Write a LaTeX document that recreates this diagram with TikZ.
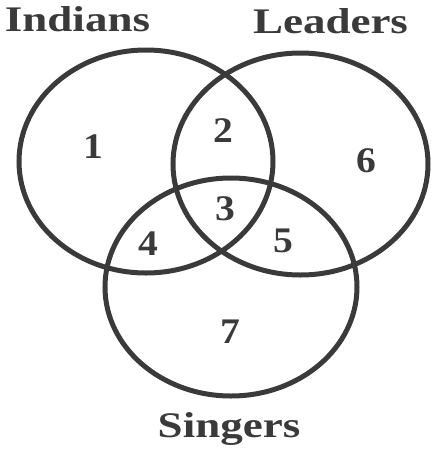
\documentclass[tikz,border=0pt]{standalone}
\usepackage{fontspec}
\setmainfont{Liberation Serif}
\definecolor{ink}{HTML}{3A3A3A}
\begin{document}
\begin{tikzpicture}[x=1pt,y=-1pt,
  ring/.style={draw=ink,line width=5pt},
  setlabel/.style={anchor=base,inner sep=0pt,text=ink,font=\fontsize{36}{40}\selectfont\bfseries,xscale=1.25},
  region/.style={anchor=base,inner sep=0pt,text=ink,font=\fontsize{36}{40}\selectfont\bfseries,xscale=1.1}]
\useasboundingbox (0,0) rectangle (433,451);
\coordinate (cI) at (146,161.5);
\coordinate (cL) at (300.5,164);
\coordinate (cS) at (231,287);
\draw[ring] (cI) ellipse [x radius=127, y radius=111.5];
\draw[ring] (cL) ellipse [x radius=127.5, y radius=111];
\draw[ring] (cS) ellipse [x radius=126, y radius=109];
\node[setlabel] (indians) at (77.5,31) {Indians};
\node[setlabel] (leaders) at (330.5,33) {Leaders};
\node[setlabel] (singers) at (229,437) {Singers};
\node[region] (r1) at (93,158) {1};
\node[region] (r2) at (223,142) {2};
\node[region] (r6) at (366,172) {6};
\node[region] (r3) at (225,220) {3};
\node[region] (r4) at (148,255) {4};
\node[region] (r5) at (283,252) {5};
\node[region] (r7) at (230,343) {7};
\end{tikzpicture}
\end{document}
